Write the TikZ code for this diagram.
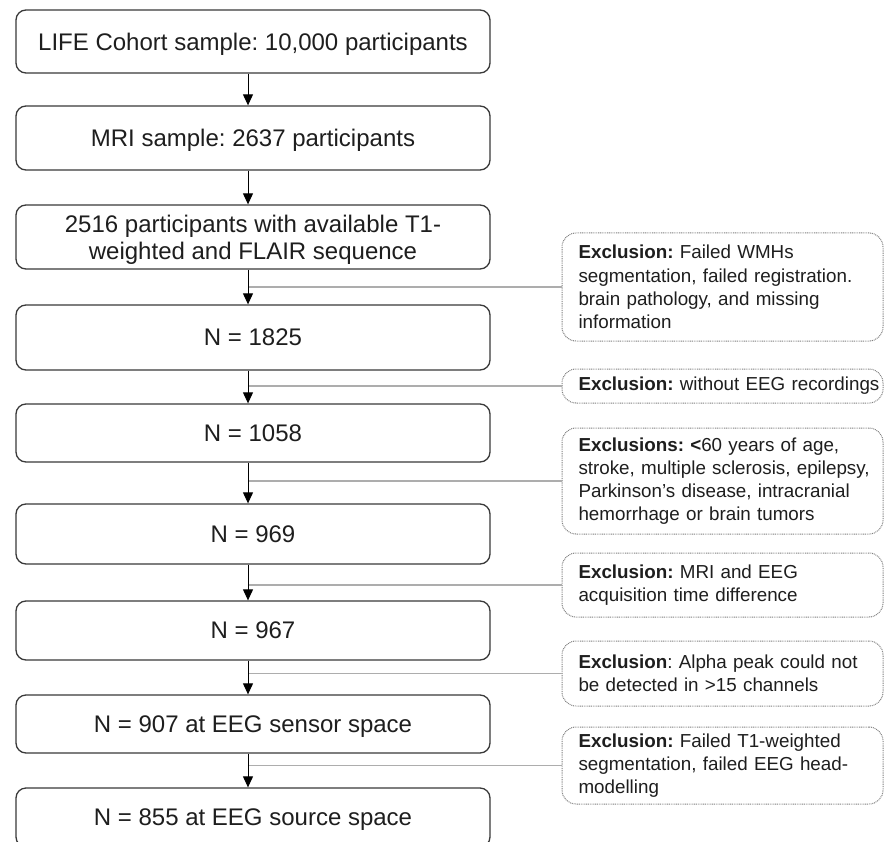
\documentclass[tikz,border=0pt]{standalone}
\usepackage{fontspec}
\setmainfont{Liberation Sans}
\usetikzlibrary{arrows.meta}
\definecolor{txt}{HTML}{1E1E1E}
\definecolor{bord}{HTML}{3A3A3A}
\definecolor{exb}{HTML}{808080}
\definecolor{exl}{HTML}{ADADAD}
\frenchspacing
\begin{document}
\begin{tikzpicture}[x=1pt,y=-1pt,
  mainbox/.style={draw=bord, line width=1.3pt, rounded corners=10pt, minimum width=474pt,
    inner sep=0pt, text depth=0pt, align=center, font=\fontsize{24}{27}\selectfont, text=txt},
  exbox/.style={draw=exb, line width=1pt, dash pattern=on 0.9pt off 0.9pt, rounded corners=14pt,
    minimum width=321pt, text width=288pt, inner xsep=16.5pt, inner ysep=0pt, align=left,
    font=\fontsize{18.8}{23.2}\selectfont, text=txt},
  arr/.style={-{Triangle[length=11pt,width=10pt]}, line width=1pt, draw=black},
  exline/.style={draw=exl, line width=1.2pt}]
\useasboundingbox (0,0) rectangle (885,842);
\fill[white] (0,0) rectangle (885,842);

% main flow boxes
\node[mainbox, minimum height=63pt] (b1) at (253,41.5) {LIFE Cohort sample: 10,000 participants};
\node[mainbox, minimum height=64pt] (b2) at (253,138) {MRI sample: 2637 participants};
\node[mainbox, minimum height=64pt] (b3) at (253,237) {2516 participants with available T1-\\weighted and FLAIR sequence};
\node[mainbox, minimum height=65pt] (b4) at (253,337.5) {N = 1825};
\node[mainbox, minimum height=58pt] (b5) at (253,433) {N = 1058};
\node[mainbox, minimum height=60pt] (b6) at (253,534) {N = 969};
\node[mainbox, minimum height=59pt] (b7) at (253,630.5) {N = 967};
\node[mainbox, minimum height=58pt] (b8) at (253,724) {N = 907 at EEG sensor space};
\node[mainbox, minimum height=59pt] (b9) at (253,817.5) {N = 855 at EEG source space};

% exclusion boxes
\node[exbox, minimum height=108pt] (e1) at (722.5,287) {\mbox{\textbf{Exclusion:} Failed WMHs}\\\mbox{segmentation, failed registration.}\\\mbox{brain pathology, and missing}\\\mbox{information}};
\node[exbox, minimum height=34pt] (e2) at (722.5,386) {\mbox{\textbf{Exclusion:} without EEG recordings}};
\node[exbox, minimum height=106pt] (e3) at (722.5,481) {\mbox{\textbf{Exclusions: <}60 years of age,}\\\mbox{stroke, multiple sclerosis, epilepsy,}\\\mbox{Parkinson’s disease, intracranial}\\\mbox{hemorrhage or brain tumors}};
\node[exbox, minimum height=64pt] (e4) at (722.5,585) {\mbox{\textbf{Exclusion:} MRI and EEG}\\\mbox{acquisition time difference}};
\node[exbox, minimum height=65pt] (e5) at (722.5,673.5) {\mbox{\textbf{Exclusion}: Alpha peak could not}\\\mbox{be detected in >15 channels}};
\node[exbox, minimum height=77pt] (e6) at (722.5,765.5) {\mbox{\textbf{Exclusion:} Failed T1-weighted}\\\mbox{segmentation, failed EEG head-}\\\mbox{modelling}};

% side connectors
\draw[exline] ([xshift=-5pt]b3.south |- e1.west) -- (e1.west);
\draw[exline] ([xshift=-5pt]b4.south |- e2.west) -- (e2.west);
\draw[exline] ([xshift=-5pt]b5.south |- e3.west) -- (e3.west);
\draw[exline] ([xshift=-5pt]b6.south |- e4.west) -- (e4.west);
\draw[exline] ([xshift=-5pt]b7.south |- e5.west) -- (e5.west);
\draw[exline] ([xshift=-5pt]b8.south |- e6.west) -- (e6.west);

% arrows
\draw[arr] ([xshift=-5pt]b1.south) -- ([xshift=-5pt]b2.north);
\draw[arr] ([xshift=-5pt]b2.south) -- ([xshift=-5pt]b3.north);
\draw[arr] ([xshift=-5pt]b3.south) -- ([xshift=-5pt]b4.north);
\draw[arr] ([xshift=-5pt]b4.south) -- ([xshift=-5pt]b5.north);
\draw[arr] ([xshift=-5pt]b5.south) -- ([xshift=-5pt]b6.north);
\draw[arr] ([xshift=-5pt]b6.south) -- ([xshift=-5pt]b7.north);
\draw[arr] ([xshift=-5pt]b7.south) -- ([xshift=-5pt]b8.north);
\draw[arr] ([xshift=-5pt]b8.south) -- ([xshift=-5pt]b9.north);
\end{tikzpicture}
\end{document}
